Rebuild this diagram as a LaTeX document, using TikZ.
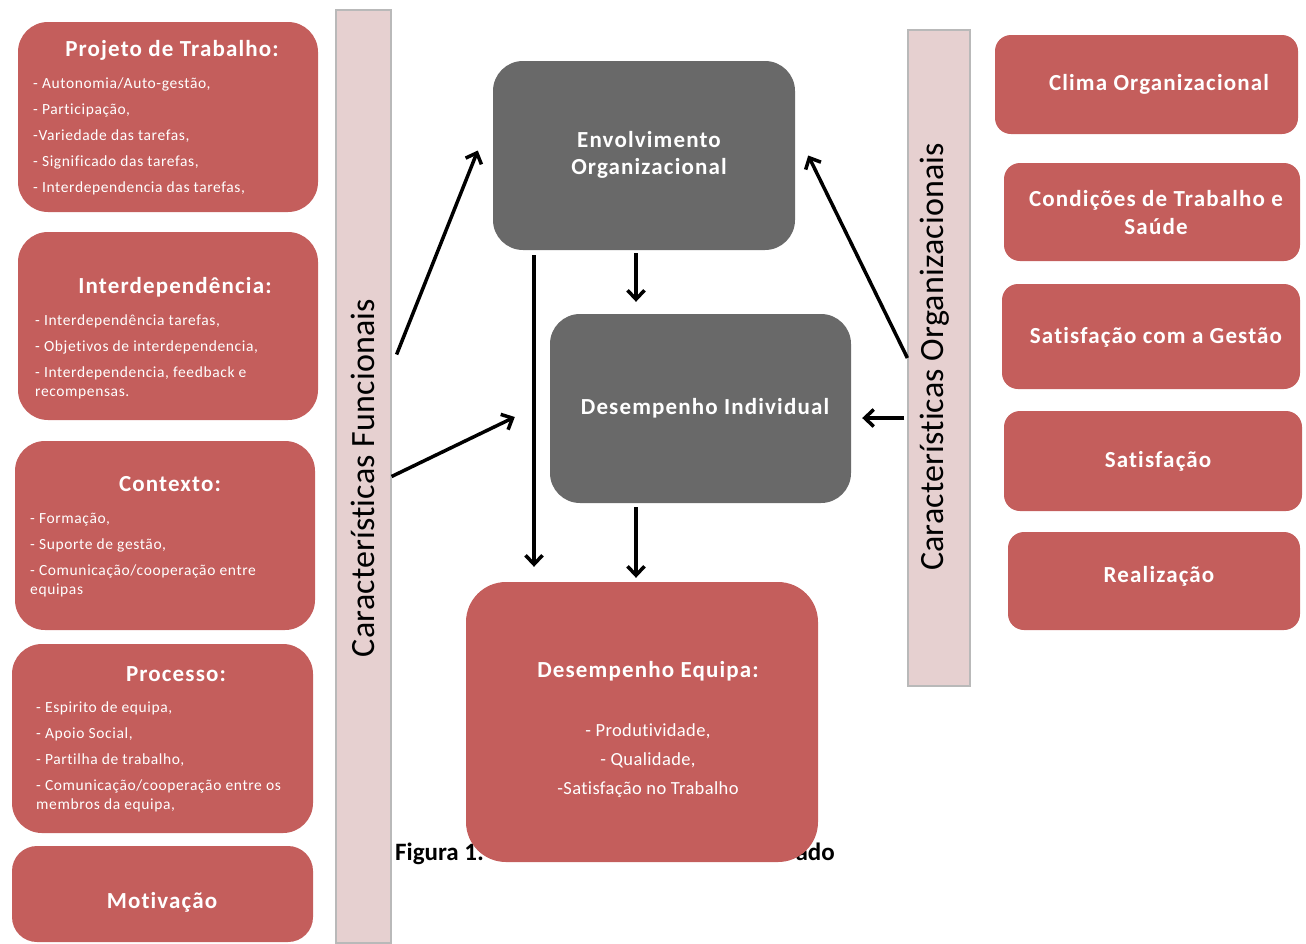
\documentclass[tikz,border=0pt]{standalone}
\usepackage{fontspec}
\setmainfont{Carlito}[Ligatures={NoCommon,NoContextual}]
\usetikzlibrary{arrows.meta}
\definecolor{boxred}{RGB}{196,94,92}
\definecolor{boxgray}{RGB}{105,105,105}
\definecolor{barpink}{RGB}{230,208,208}
\definecolor{barline}{RGB}{185,185,185}
\begin{document}
\begin{tikzpicture}[x=1pt,y=-1pt,
  redbox/.style={fill=boxred, draw=none, rounded corners=#1, inner sep=0pt},
  graybox/.style={fill=boxgray, draw=none, rounded corners=30pt, inner sep=0pt},
  bar/.style={fill=barpink, draw=barline, line width=1.2pt, inner sep=0pt},
  bartext/.style={rotate=90, font=\fontsize{34}{38}\selectfont\addfontfeature{LetterSpace=0.5}, text=black},
  ttl/.style={text=white, font=\fontsize{23}{28}\selectfont\bfseries\addfontfeature{LetterSpace=5}, inner sep=0pt},
  item/.style={text=white, font=\fontsize{15.5}{18}\selectfont\addfontfeature{LetterSpace=4}, anchor=west, inner sep=0pt,
     text height=11pt, text depth=3pt},
  citem/.style={text=white, font=\fontsize{18.5}{22}\selectfont\addfontfeature{LetterSpace=2}, anchor=center, inner sep=0pt,
     text height=13pt, text depth=4pt},
  captext/.style={text=black, font=\fontsize{25}{29}\selectfont\bfseries, inner sep=0pt},
  arr/.style={line width=3.5pt, -{Straight Barb[length=9pt,width=17pt]}}
]
\useasboundingbox (0,0) rectangle (1306,943);

% bars
\node[bar, minimum width=55pt, minimum height=933pt] (barF) at (363.5,476.5) {};
\node[bartext] (barFt) at (363,478) {Características Funcionais};
\node[bar, minimum width=62pt, minimum height=656pt] (barO) at (939,358) {};
\node[bartext] (barOt) at (935,357) {Características Organizacionais};

% left boxes
\node[redbox=30pt, minimum width=300pt, minimum height=190pt] (proj) at (168,117) {};
\node[ttl] (projT) at (172,50) {Projeto de Trabalho:};
\node[item] (p1) at (33,84) {- Autonomia/Auto-gestão,};
\node[item] (p2) at (33,110) {- Participação,};
\node[item] (p3) at (33,136) {-Variedade das tarefas,};
\node[item] (p4) at (33,162) {- Significado das tarefas,};
\node[item] (p5) at (33,188) {- Interdependencia das tarefas,};

\node[redbox=30pt, minimum width=300pt, minimum height=188pt] (inter) at (168,326) {};
\node[ttl] (interT) at (175,287) {Interdependência:};
\node[item] (i1) at (35,321) {- Interdependência tarefas,};
\node[item] (i2) at (35,347) {- Objetivos de interdependencia,};
\node[item] (i3) at (35,373) {- Interdependencia, feedback e};
\node[item] (i4) at (35,392) {recompensas.};

\node[redbox=30pt, minimum width=300pt, minimum height=189pt] (cont) at (165,535.5) {};
\node[ttl] (contT) at (170,484) {Contexto:};
\node[item] (c1) at (30,519) {- Formação,};
\node[item] (c2) at (30,545) {- Suporte de gestão,};
\node[item] (c3) at (30,571) {- Comunicação/cooperação entre};
\node[item] (c4) at (30,590) {equipas};

\node[redbox=30pt, minimum width=301pt, minimum height=189pt] (proc) at (162.5,738.5) {};
\node[ttl] (procT) at (176,674) {Processo:};
\node[item] (r1) at (36,708) {- Espirito de equipa,};
\node[item] (r2) at (36,734) {- Apoio Social,};
\node[item] (r3) at (36,760) {- Partilha de trabalho,};
\node[item] (r4) at (36,786) {- Comunicação/cooperação entre os};
\node[item] (r5) at (36,805) {membros da equipa,};

\node[redbox=25pt, minimum width=301pt, minimum height=96pt] (motiv) at (162.5,894) {};
\node[ttl] (motivT) at (162,902) {Motivação};

% caption (partly hidden)
\node[captext, anchor=base west] (cap1) at (395,860) {Figura 1:};
\node[captext, anchor=base east] (cap2) at (835,860) {ado};

% central boxes
\node[graybox, minimum width=302pt, minimum height=189pt] (env) at (644,155.5) {};
\node[ttl, align=center] (envT) at (649,155) {Envolvimento\\[-1pt]Organizacional};
\node[graybox, minimum width=301pt, minimum height=189pt] (di) at (700.5,408.5) {};
\node[ttl] (diT) at (705,408) {Desempenho Individual};
\node[redbox=40pt, minimum width=352pt, minimum height=280pt] (deq) at (642,722) {};
\node[ttl] (deqT) at (648,671) {Desempenho Equipa:};
\node[citem] (d1) at (648,732) {- Produtividade,};
\node[citem] (d2) at (648,761) {- Qualidade,};
\node[citem] (d3) at (648,790) {-Satisfação no Trabalho};

% right boxes
\node[redbox=16pt, minimum width=303pt, minimum height=99pt] (clima) at (1146.5,84.5) {};
\node[ttl] (climaT) at (1159,84) {Clima Organizacional};
\node[redbox=16pt, minimum width=296pt, minimum height=98pt] (cond) at (1152,212) {};
\node[ttl, align=center] (condT) at (1156,213) {Condições de Trabalho e\\[0pt]Saúde};
\node[redbox=16pt, minimum width=298pt, minimum height=105pt] (satg) at (1151,336.5) {};
\node[ttl] (satgT) at (1156,337) {Satisfação com a Gestão};
\node[redbox=16pt, minimum width=298pt, minimum height=100pt] (sat) at (1153,461) {};
\node[ttl] (satT) at (1158,461) {Satisfação};
\node[redbox=16pt, minimum width=292pt, minimum height=98pt] (real) at (1154,581) {};
\node[ttl] (realT) at (1159,576) {Realização};

% arrows
\draw[arr] ([shift={(5,-122)}]barF.east) -- ([shift={(-15,-5)}]env.west);
\draw[arr] (barF.east) -- ([shift={(-35,8.5)}]di.west);
\draw[arr] ([shift={(-110,5)}]env.south) -- ([shift={(-108,-15)}]deq.north);
\draw[arr] ([shift={(-8,3)}]env.south) -- ([shift={(-64.5,-12)}]di.north);
\draw[arr] ([shift={(-64.5,4)}]di.south) -- ([shift={(-6,-4)}]deq.north);
\draw[arr] (barO.west) -- ([shift={(13,0)}]env.east);
\draw[arr] ([shift={(-3,60)}]barO.west) -- ([shift={(11,9.5)}]di.east);
\end{tikzpicture}
\end{document}
